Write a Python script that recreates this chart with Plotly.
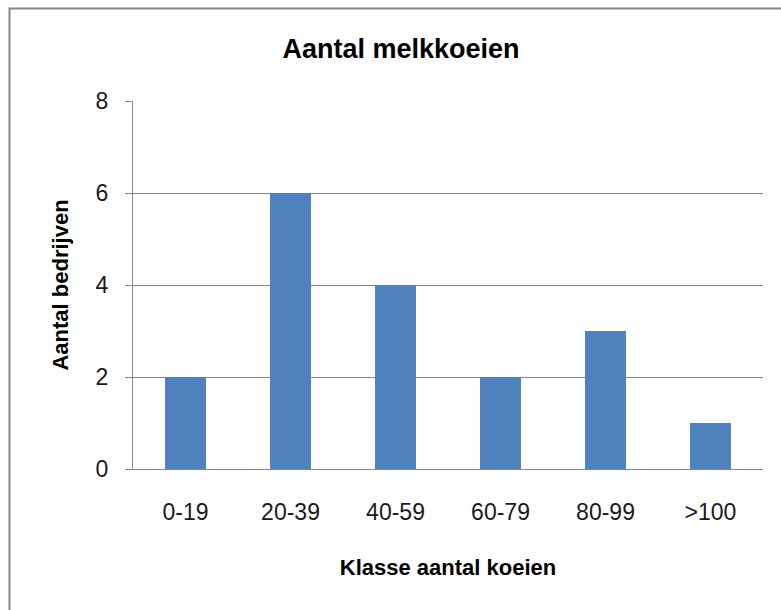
import plotly.graph_objects as go

# Dairy farm size classes and number of farms per class
klassen = ["0-19", "20-39", "40-59", "60-79", "80-99", ">100"]
bedrijven = [2, 6, 4, 2, 3, 1]
y_ticks = [0, 2, 4, 6, 8]

W, H = 781, 610
L, R, T, B = 133, 18, 101, 141
pw, ph = W - L - R, H - T - B

fig = go.Figure(go.Bar(
    x=klassen, y=bedrijven,
    marker=dict(color="#4F81BD", line=dict(width=0)),
))

font = "Liberation Sans"
fig.update_layout(
    width=W, height=H,
    margin=dict(l=L, r=R, t=T, b=B),
    paper_bgcolor="white", plot_bgcolor="white",
    bargap=0.61,
    showlegend=False,
    font=dict(family=font, color="#000000", size=23),
    title=dict(text="<b>Aantal melkkoeien</b>", x=401 / W,
               xanchor="center", y=1 - 49 / H, yanchor="middle",
               font=dict(size=27, family=font, color="#000000")),
    xaxis=dict(
        showline=True, linecolor="#868686", linewidth=1,
        ticks="", showgrid=False,
        tickfont=dict(size=23, color="#1a1a1a"),
        ticklabelstandoff=22,
        title=dict(text="<b>Klasse aantal koeien</b>", standoff=36,
                   font=dict(size=22)),
    ),
    yaxis=dict(
        range=[0, 8], tickvals=y_ticks,
        showline=True, linecolor="#868686", linewidth=1,
        ticks="outside", ticklen=7, tickcolor="#868686",
        showgrid=True, gridcolor="#868686", gridwidth=1,
        zeroline=False,
        tickfont=dict(size=23, color="#1a1a1a"),
        ticklabelstandoff=12,
        title=dict(text="<b>Aantal bedrijven</b>", standoff=20,
                   font=dict(size=22)),
    ),
)

# Chart frame (extends past the right and bottom edges)
fig.add_shape(
    type="rect", xref="paper", yref="paper",
    x0=(9.5 - L) / pw, x1=(W + 10 - L) / pw,
    y0=-(H + 10 - T - ph) / ph, y1=(T + ph - 8.5) / ph,
    line=dict(color="#868686", width=2), fillcolor="rgba(0,0,0,0)",
    layer="below",
)

fig.write_html("out.html")
